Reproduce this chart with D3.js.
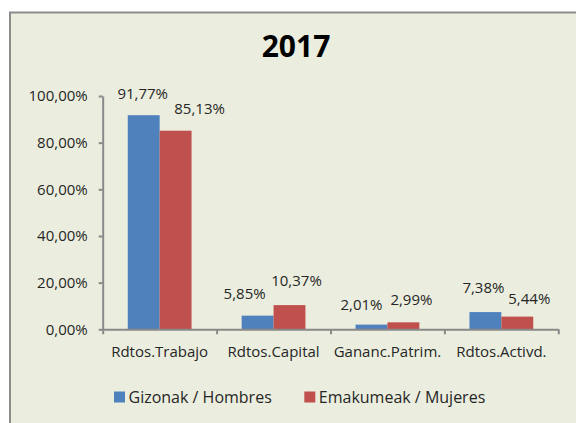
<!DOCTYPE html>
<html lang="eu">
<head>
    <meta charset="utf-8">
    <title>2017</title>
    <style>
        body {
            margin: 0;
            background: #fff;
        }

        svg text {
            font-family: "Open Sans", sans-serif;
            fill: #262626;
        }
    </style>
</head>
<body>
<svg class="chart"></svg>
<script src="https://d3js.org/d3.v7.min.js"></script>
<script>

  const categories = ["Rdtos.Trabajo", "Rdtos.Capital", "Gananc.Patrim.", "Rdtos.Activd."];
  const seriesNames = ["Gizonak / Hombres", "Emakumeak / Mujeres"];
  const hombres = [0.9177, 0.0585, 0.0201, 0.0738];
  const mujeres = [0.8513, 0.1037, 0.0299, 0.0544];
  const yTicks = [0, 0.2, 0.4, 0.6, 0.8, 1.0];

  const colors = ["#4f81bd", "#c0504d"];

  // data labels were dragged around by hand in the original, so nudge them a bit
  const labelDx = [[-1, -13, -10, -2], [24, 7, 8, 12]];
  const labelGap = [[16, 17, 15, 19], [17, 19, 17, 13]];

  const width = 576;
  const height = 423;
  const plot = {left: 102.7, right: 558.3, top: 96, bottom: 329.3};

  const esLocale = d3.formatLocale({decimal: ",", thousands: ".", grouping: [3], currency: ["", " €"]});
  const pct = esLocale.format(".2%");

  const svg = d3.select(".chart")
    .attr("width", width)
    .attr("height", height);

  // chart area with its grey frame
  svg.append("rect")
    .attr("x", 10)
    .attr("y", 12.5)
    .attr("width", width + 20)
    .attr("height", height + 20)
    .style("fill", "#ebeedf")
    .style("stroke", "#8c8c8c")
    .style("stroke-width", 2);

  svg.append("text")
    .attr("x", 296)
    .attr("y", 57)
    .attr("text-anchor", "middle")
    .style("font-size", "30px")
    .style("font-weight", "bold")
    .style("fill", "#000")
    .text("2017");

  const x0 = d3.scaleBand()
    .domain(categories)
    .range([plot.left, plot.right])
    .paddingInner(0.44)
    .paddingOuter(0.22);

  const x1 = d3.scaleBand()
    .domain([0, 1])
    .range([0, x0.bandwidth()]);

  const y = d3.scaleLinear()
    .domain([0, 1])
    .range([plot.bottom, plot.top]);

  const rows = categories.map((c, i) => ({cat: c, i: i, values: [hombres[i], mujeres[i]]}));

  const groups = svg.selectAll("g.group")
    .data(rows)
    .enter()
    .append("g")
    .attr("class", "group")
    .attr("transform", d => `translate(${x0(d.cat)},0)`);

  groups.selectAll("rect")
    .data(d => d.values.map((v, s) => ({v: v, s: s, i: d.i})))
    .enter()
    .append("rect")
    .attr("x", d => x1(d.s))
    .attr("y", d => y(d.v))
    .attr("width", x1.bandwidth())
    .attr("height", d => y(0) - y(d.v))
    .style("fill", d => colors[d.s]);

  groups.selectAll("text.lbl")
    .data(d => d.values.map((v, s) => ({v: v, s: s, i: d.i})))
    .enter()
    .append("text")
    .attr("class", "lbl")
    .attr("x", d => x1(d.s) + x1.bandwidth() / 2 + labelDx[d.s][d.i])
    .attr("y", d => y(d.v) - labelGap[d.s][d.i])
    .attr("text-anchor", "middle")
    .style("font-size", "15px")
    .text(d => pct(d.v));

  // y axis
  const yAxis = d3.axisLeft(y)
    .tickValues(yTicks)
    .tickFormat(pct)
    .tickSize(4)
    .tickSizeOuter(0)
    .tickPadding(11);

  const yg = svg.append("g")
    .attr("transform", `translate(${plot.left},0)`)
    .call(yAxis);

  // x axis: ticks sit on the category boundaries
  const xEdge = d3.scaleLinear()
    .domain([0, categories.length])
    .range([plot.left, plot.right]);

  const xg = svg.append("g")
    .attr("transform", `translate(0,${plot.bottom})`)
    .call(d3.axisBottom(xEdge).ticks(categories.length).tickSize(5).tickSizeOuter(0).tickFormat(""));

  const xl = svg.append("g")
    .attr("transform", `translate(0,${plot.bottom})`)
    .call(d3.axisBottom(x0).tickSize(0).tickPadding(17));
  xl.select(".domain").remove();

  [yg, xg, xl].forEach(g => {
    g.selectAll(".domain, line").style("stroke", "#898989").style("stroke-width", 2);
    g.selectAll("text").style("font-size", "15px").style("font-family", "'Open Sans', sans-serif").style("fill", "#262626");
  });

  // legend
  const legendX = [114, 304.3];
  const legend = svg.selectAll("g.legend")
    .data(seriesNames)
    .enter()
    .append("g")
    .attr("class", "legend")
    .attr("transform", (d, i) => `translate(${legendX[i]},391.5)`);

  legend.append("rect")
    .attr("width", 11)
    .attr("height", 11)
    .style("fill", (d, i) => colors[i]);

  legend.append("text")
    .attr("x", 14.5)
    .attr("y", 11)
    .style("font-size", "16px")
    .text(d => d);

</script>
</body>
</html>
